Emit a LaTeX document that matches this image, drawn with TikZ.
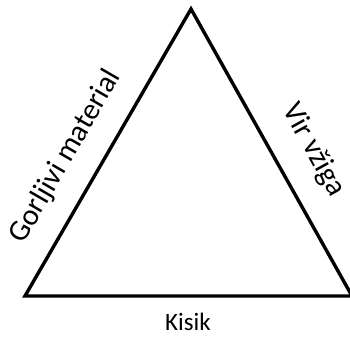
\documentclass[tikz,border=0pt]{standalone}
\usepackage{fontspec}
\setmainfont{Carlito}
\begin{document}
\begin{tikzpicture}[x=1pt,y=1pt,
  edge/.style={line width=3.4pt, line join=miter, draw=black},
  sidelabel/.style={inner sep=0pt, font=\fontsize{30}{30}\selectfont},
  baselabel/.style={inner sep=0pt, font=\fontsize{25}{25}\selectfont}]
\useasboundingbox (0,0) rectangle (350,-337);
\coordinate (A) at (191,-9);
\coordinate (B) at (25,-296);
\coordinate (C) at (352,-296);
\draw[edge] (A) -- (B) -- (C) -- cycle;
\node[sidelabel, rotate=60] (gm) at (65.5,-156.5) {Gorljivi material};
\node[sidelabel, rotate=-61] (vv) at (313.5,-150) {Vir vžiga};
\node[baselabel] (ki) at (188,-322) {Kisik};
\end{tikzpicture}
\end{document}
